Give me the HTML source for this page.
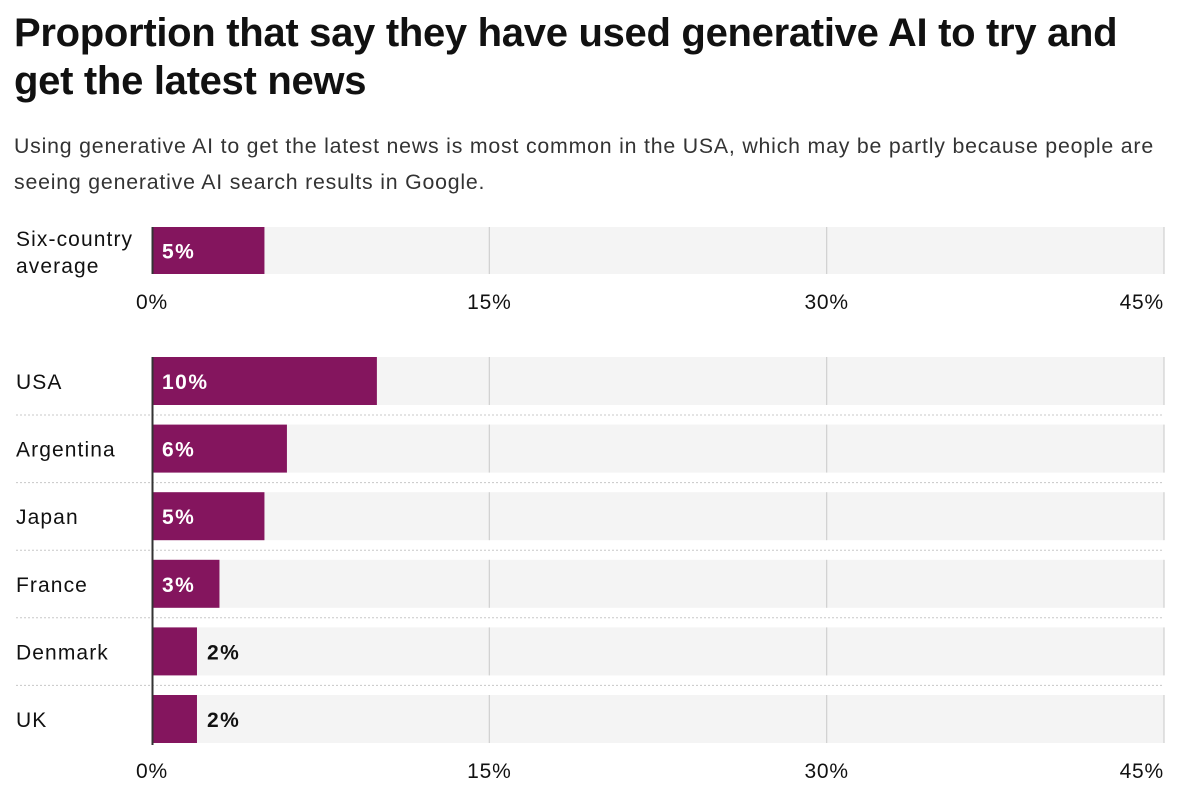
<!DOCTYPE html>
<html><head><meta charset="utf-8"><style>
body{margin:0;background:#fff;font-family:"Liberation Sans",sans-serif;color:#111;}
#wrap{position:relative;width:1190px;height:804px;overflow:hidden;}
h1{position:absolute;left:14px;top:9px;margin:0;font-size:40px;line-height:48px;font-weight:900;letter-spacing:-0.3px;width:1176px;white-space:nowrap;}
p.sub{position:absolute;left:14px;top:128px;margin:0;font-size:21.3px;line-height:36px;color:#333;width:1176px;letter-spacing:0.8px;white-space:nowrap;}
svg{position:absolute;left:0;top:0;}
svg text{font-family:"Liberation Sans",sans-serif;letter-spacing:0.8px;}
svg text.lbl{letter-spacing:1.1px;}
svg text.val{letter-spacing:1.5px;}
</style></head><body>
<div id="wrap">
<h1>Proportion that say they have used generative AI to try and<br>get the latest news</h1>
<p class="sub">Using generative AI to get the latest news is most common in the USA, which may be partly because people are<br>seeing generative AI search results in Google.</p>
<svg id="chart" width="1190" height="804"></svg>
</div>
<script>
const avgLabel = ["Six-country", "average"];
const avgValue = [5];
const countries = ["USA","Argentina","Japan","France","Denmark","UK"];
const values = [10,6,5,3,2,2];
const ticks = [0,15,30,45];
const tickLabels = ["0%","15%","30%","45%"];

const NS="http://www.w3.org/2000/svg";
const svg=document.getElementById('chart');
const x0=152,x1=1164,maxV=45;
const xs=v=>x0+(v/maxV)*(x1-x0);
function el(tag,attrs,parent){const e=document.createElementNS(NS,tag);for(const k in attrs)e.setAttribute(k,attrs[k]);(parent||svg).appendChild(e);return e;}
const color="#84155e";

function drawBar(yTop,h,v,name){
  const bg=el('rect',{x:x0,y:yTop,width:x1-x0,height:h,fill:'#f4f4f4'});
  
  
  ticks.slice(1).forEach(t=>{
    const g=el('line',{x1:xs(t),x2:xs(t),y1:yTop,y2:yTop+h,stroke:'#d0d0d0','stroke-width':1.2});
    
    
  });
  const b=el('rect',{x:x0,y:yTop,width:xs(v)-x0,height:h,fill:color});
  
  
  const inside=(xs(v)-x0)>60;
  const t=el('text',{x:inside?x0+10:xs(v)+10,y:yTop+h/2+8,'font-size':21,'font-weight':'bold','class':'val',fill:inside?'#fff':'#111'});
  t.textContent=v+'%';
  
  
}
function drawTicks(y){
  ticks.forEach((t,i)=>{
    const anchor=i===ticks.length-1?'end':'middle';
    const tx=el('text',{x:i===ticks.length-1?x1:xs(t),y:y,'font-size':21,'text-anchor':anchor,fill:'#111'});
    tx.textContent=tickLabels[i];
    
    
  });
}
function axisLine(y1,y2){
  const a=el('line',{x1:x0+0.5,x2:x0+0.5,y1:y1,y2:y2,stroke:'#333','stroke-width':2});
  
  
}

drawBar(227,47,avgValue[0],'six-country-average');
const al=el('text',{x:16,y:246,'font-size':21,'class':'lbl',fill:'#111'});


avgLabel.forEach((s,i)=>{const ts=el('tspan',{x:16,dy:i?27:0},al);ts.textContent=s;});
axisLine(227,274);
drawTicks(309);

const top0=357,pitch=67.6,bh=48;
countries.forEach((c,i)=>{
  const y=top0+i*pitch;
  drawBar(y,bh,values[i],c.toLowerCase());
  const l=el('text',{x:16,y:y+bh/2+8,'font-size':21,'class':'lbl',fill:'#111'});
  l.textContent=c;
  
  
  if(i<countries.length-1){
    const s=el('line',{x1:16,x2:x1,y1:y+bh+10,y2:y+bh+10,stroke:'#c8c8c8','stroke-width':1,'stroke-dasharray':'2,2'});
    
    
  }
});
axisLine(357,745);
drawTicks(778);
</script>
</body></html>
